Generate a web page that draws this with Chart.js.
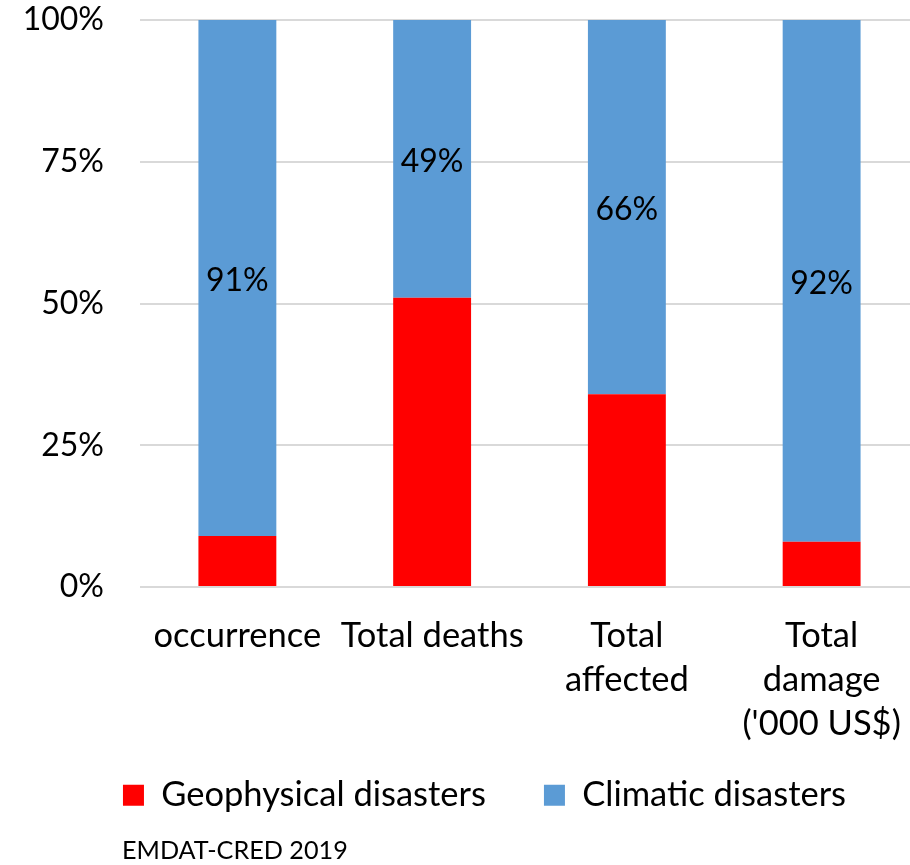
<!DOCTYPE html>
<html>
<head>
<meta charset="utf-8">
<script src="https://cdn.jsdelivr.net/npm/chart.js@4"></script>
<style>
  html, body { margin: 0; padding: 0; background: #fff; overflow: hidden; }
  #wrap { width: 910px; height: 865px; position: relative; overflow: hidden; }
  #c { display: block; }
</style>
</head>
<body>
<div id="wrap"><canvas id="c" width="919" height="865"></canvas></div>
<script>
const categories = [['occurrence'], ['Total deaths'], ['Total', 'affected'], ['Total', 'damage', "('000 US$)"]];
const geophysical = [9, 51, 34, 8];
const climatic = [91, 49, 66, 92];
const climaticLabels = ['91%', '49%', '66%', '92%'];
const yTickLabels = ['0%', '25%', '50%', '75%', '100%'];
const seriesNames = ['Geophysical disasters', 'Climatic disasters'];
const sourceText = 'EMDAT-CRED 2019';

const FONT = 'Lato';

const barLabelPlugin = {
  id: 'barLabels',
  afterDatasetsDraw(chart) {
    const ctx = chart.ctx;
    const meta = chart.getDatasetMeta(1);
    ctx.save();
    ctx.font = '32px ' + FONT;
    ctx.fillStyle = '#000';
    ctx.textAlign = 'center';
    ctx.textBaseline = 'middle';
    meta.data.forEach((el, i) => {
      const y = (el.y + el.base) / 2 + 3;
      ctx.fillText(climaticLabels[i], el.x, y);
    });
    ctx.restore();
  }
};

const legendPlacePlugin = {
  id: 'legendPlace',
  afterLayout(chart) {
    const lg = chart.legend;
    if (lg) {
      lg.left = 50;
      lg.top = 720;
    }
  }
};

const sourcePlugin = {
  id: 'sourceText',
  afterDraw(chart) {
    const ctx = chart.ctx;
    ctx.save();
    ctx.font = '25.2px ' + FONT;
    ctx.fillStyle = '#000';
    ctx.textAlign = 'left';
    ctx.textBaseline = 'middle';
    ctx.fillText(sourceText, 122, 851);
    ctx.restore();
  }
};

new Chart(document.getElementById('c'), {
  type: 'bar',
  data: {
    labels: categories,
    datasets: [
      { label: seriesNames[0], data: geophysical, backgroundColor: '#ff0000', borderWidth: 0 },
      { label: seriesNames[1], data: climatic, backgroundColor: '#5b9bd5', borderWidth: 0 }
    ]
  },
  options: {
    responsive: false,
    animation: false,
    devicePixelRatio: 1,
    datasets: { bar: { categoryPercentage: 1.0, barPercentage: 0.40 } },
    layout: { padding: { left: 0, right: 0, top: 20, bottom: 16.5 } },
    scales: {
      x: {
        stacked: true,
        grid: { display: false, drawTicks: true, tickLength: 27 },
        border: { display: false },
        ticks: {
          color: '#000',
          padding: 0,
          maxRotation: 0,
          autoSkip: false,
          font: { family: FONT, size: 34.5, lineHeight: 44 / 34.5 }
        },
        afterFit(scale) { scale.height = 159; }
      },
      y: {
        stacked: true,
        min: 0,
        max: 100,
        grid: { color: '#d9d9d9', lineWidth: 2, drawTicks: true, tickLength: 36, tickColor: 'rgba(0,0,0,0)' },
        border: { display: false },
        ticks: {
          stepSize: 25,
          color: '#000',
          padding: 0,
          font: { family: FONT, size: 32 },
          callback: (v) => yTickLabels[Math.round(v / 25)]
        },
        afterFit(scale) { scale.width = 140; }
      }
    },
    plugins: {
      legend: {
        display: true,
        position: 'bottom',
        labels: {
          color: '#000',
          boxWidth: 21,
          boxHeight: 21,
          padding: 58,
          font: { family: FONT, size: 34.5 }
        }
      },
      tooltip: { enabled: false },
      title: { display: false }
    }
  },
  plugins: [barLabelPlugin, legendPlacePlugin, sourcePlugin]
});
</script>
</body>
</html>
